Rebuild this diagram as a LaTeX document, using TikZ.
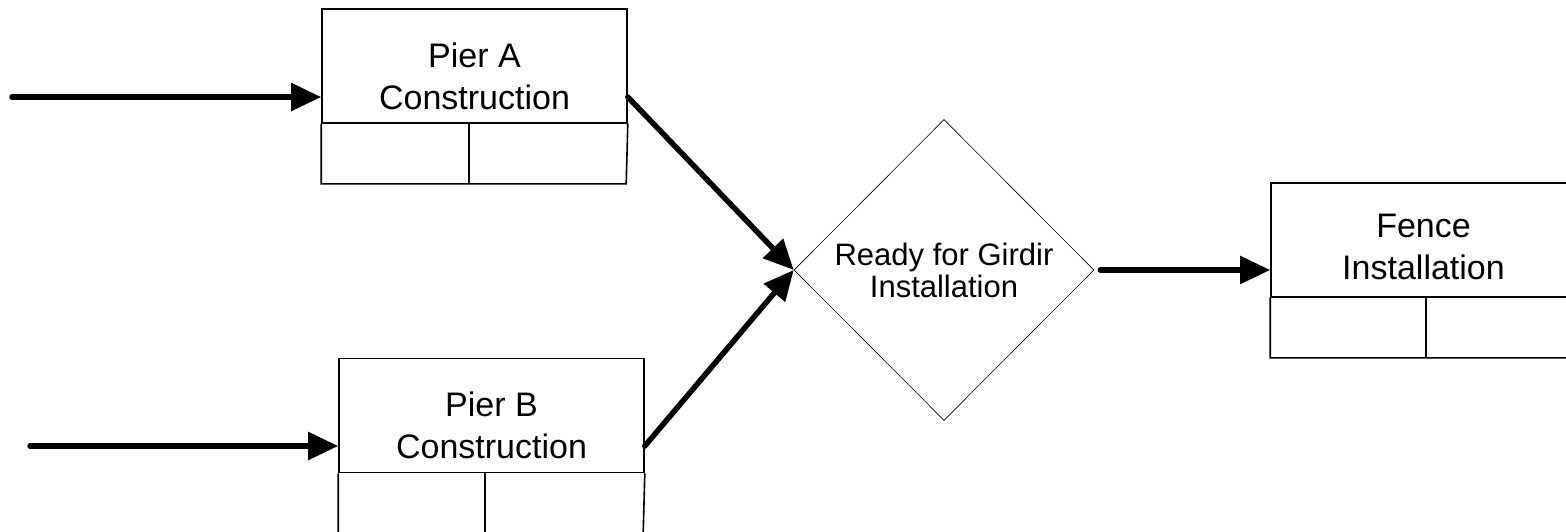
\documentclass[tikz,border=0pt]{standalone}
\usepackage{fontspec}
\setmainfont{Liberation Sans}
\usetikzlibrary{arrows.meta,shapes.geometric}

\begin{document}
\begin{tikzpicture}[
  x=1pt, y=-1pt, % pixel grid of the drawing
  boxline/.style={line width=1.6pt},
  taskbox/.style={rectangle, draw, boxline, minimum width=305pt, minimum height=114pt, inner sep=0pt},
  tasktext/.style={align=center, inner sep=0pt, font=\fontsize{34}{42}\selectfont},
  decision/.style={diamond, draw, line width=0.6pt, minimum width=300pt, minimum height=301pt, inner sep=0pt, align=center, font=\fontsize{31}{32}\selectfont},
  flow/.style={line width=5.5pt, line cap=round, -{Triangle[length=30pt, width=27pt]}}
]
\useasboundingbox (0,0) rectangle (1566,531);

% Task boxes (upper part with the name)
\node[taskbox] (pierA) at (474.5,66) {};
\node[taskbox] (pierB) at (491.5,415.5) {};
\node[taskbox] (fence) at (1423.5,240) {};

\node[tasktext] (txtA) at ([yshift=-10pt]pierA.center) {Pier A\\Construction};
\node[tasktext] (txtB) at ([yshift=-10pt]pierB.center) {Pier B\\Construction};
\node[tasktext] (txtF) at ([yshift=-7pt]fence.center) {Fence\\Installation};

% Lower part of each box, split in two
\foreach \task/\split in {pierA/148, pierB/147, fence/156} {
  \draw[boxline] (\task.south west) -- ++(0,60) -- ++(305,0) -- (\task.south east);
  \draw[boxline] (\task.south west) ++(\split,0) -- ++(0,60);
}

% Milestone
\node[decision] (ready) at (944,270) {Ready for Girdir\\Installation};

% Connectors
\coordinate (inA) at (12,97);
\coordinate (inB) at (30,446);
\draw[flow] (inA) -- (inA -| pierA.west);
\draw[flow] (inB) -- (inB -| pierB.west);
\draw[flow] (pierA.east |- inA) -- (ready.west);
\draw[flow] (pierB.east |- inB) -- (ready.west);
\draw[flow] ([xshift=6pt]ready.east) -- (ready.east -| fence.west);

\end{tikzpicture}
\end{document}
